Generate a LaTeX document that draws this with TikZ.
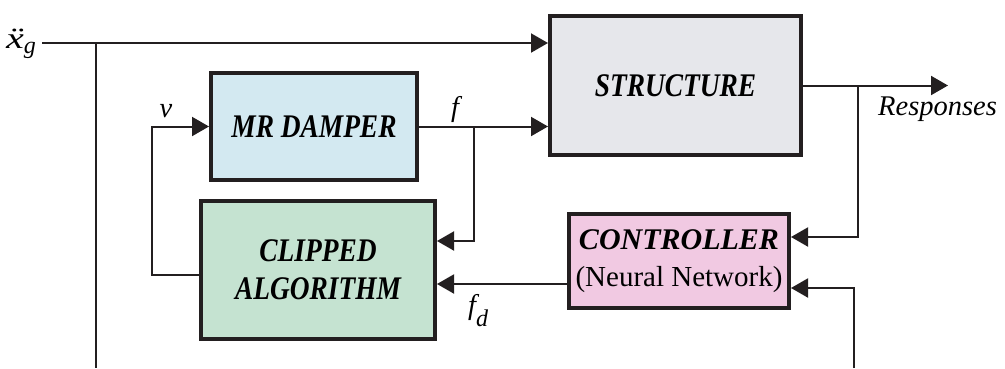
\documentclass[tikz,border=0pt]{standalone}
\usepackage{fontspec}
\setmainfont{Liberation Serif}
\newfontfamily\condserif{Liberation Serif}[FakeStretch=0.83]
\usetikzlibrary{arrows.meta}
\definecolor{strucfill}{HTML}{E6E7EB}
\definecolor{damperfill}{HTML}{D3E9F1}
\definecolor{clipfill}{HTML}{C5E3D1}
\definecolor{ctrlfill}{HTML}{F1C9E2}
\definecolor{ink}{HTML}{231F20}
\newcommand{\sublbl}[1]{\raisebox{-12pt}{\fontsize{24}{24}\selectfont #1}}
\tikzset{
  block/.style={draw=ink, line width=4pt, align=center, inner sep=0pt,
    font=\fontsize{29}{37.5}\selectfont},
  bigtext/.style={font=\condserif\fontsize{33}{38}\selectfont\bfseries\itshape},
  sig/.style={draw=ink, line width=2pt, -{Triangle[length=17pt,width=19pt]}},
  wire/.style={draw=ink, line width=2pt},
  lbl/.style={font=\fontsize{28.5}{34}\selectfont\itshape, inner sep=0pt}
}
\begin{document}
\begin{tikzpicture}[x=1pt,y=-1pt]
  \useasboundingbox (0,0) rectangle (1005,368);
  % blocks
  \node [block, bigtext, fill=strucfill, minimum width=251, minimum height=139] (structure) at (675.5,85.5) {STRUCTURE};
  \node [block, bigtext, fill=damperfill, minimum width=206, minimum height=107] (damper) at (314,126.5) {MR DAMPER};
  \node [block, bigtext, fill=clipfill, minimum width=234, minimum height=138] (clipped) at (318,270) {CLIPPED\\ALGORITHM};
  \node [block, fill=ctrlfill, minimum width=220, minimum height=94] (controller) at (679,261) {{\fontsize{30}{37.5}\selectfont\bfseries\itshape CONTROLLER}\\(Neural Network)};
  % free ends
  \coordinate (xgin) at (42,43);
  \coordinate (xgtap) at (96,43);
  \coordinate (xgbot) at (96,368);
  \coordinate (ftap) at (474,126.5);
  \coordinate (resp) at (948,85.5);
  \coordinate (rtap) at (858,85.5);
  \coordinate (ctrlbot) at (854,368);
  % signals
  \draw [sig] (xgin) -- (xgin -| structure.west);
  \draw [wire] (xgtap) -- (xgbot);
  \draw [sig] (damper.east) -- (damper.east -| structure.west);
  \draw [sig] (ftap) |- ([yshift=29pt]clipped.east);
  \draw [sig] ([yshift=-23pt]controller.west) -- ([yshift=-23pt]controller.west -| clipped.east);
  \draw [sig] ([yshift=-5pt]clipped.west) -| ([xshift=-57pt]damper.west) -- (damper.west);
  \draw [sig] (structure.east) -- (resp);
  \draw [sig] (rtap) |- ([yshift=24pt]controller.east);
  \draw [sig] (ctrlbot) |- ([yshift=-27pt]controller.east);
  % labels
  \node [lbl, anchor=base west] (xglbl) at (6,48) {\scalebox{1.4}[1.05]{\"x}\raisebox{-5pt}{\fontsize{24}{24}\selectfont g}};
  \node [lbl, anchor=base] (vlbl) at (166,117) {v};
  \node [lbl, anchor=base] (flbl) at (455,116) {f};
  \node [lbl, anchor=base west] (fdlbl) at (468,314) {f\sublbl{d}};
  \node [lbl, anchor=base west] (resplbl) at (878,115) {Responses};
\end{tikzpicture}
\end{document}
